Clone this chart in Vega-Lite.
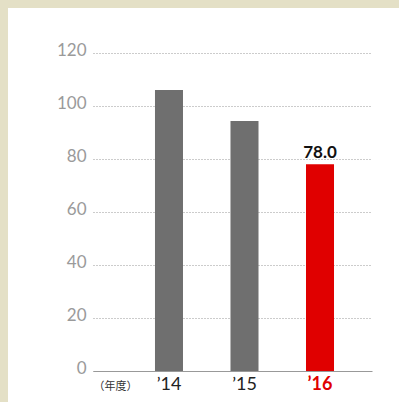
{
  "$schema": "https://vega.github.io/schema/vega-lite/v6.json",
  "width": 391,
  "height": 394,
  "autosize": {"type": "none"},
  "padding": {"left": 8, "top": 8, "right": 0, "bottom": 0},
  "background": "#e4e0c6",
  "config": {"view": {"fill": "white", "stroke": null}},
  "data": {"values": [
    {"year": "’14", "value": 106.0},
    {"year": "’15", "value": 94.3},
    {"year": "’16", "value": 78.0}
  ]},
  "layer": [
    {
      "mark": {"type": "bar"},
      "encoding": {
        "x": {
          "field": "year", "type": "nominal", "sort": null,
          "scale": {"range": [85, 364], "paddingInner": 0.629, "paddingOuter": 0.662, "align": 0.62},
          "axis": {
            "orient": "bottom", "offset": -31, "labelAngle": 0,
            "ticks": false, "grid": false,
            "domain": true, "domainColor": "#999999", "domainWidth": 1,
            "labelFont": "Lato", "labelFontSize": 18, "labelPadding": 4,
            "labelColor": {"condition": {"test": "datum.value == '’16'", "value": "#e00000"}, "value": "#222222"},
            "labelFontWeight": {"condition": {"test": "datum.value == '’16'", "value": "bold"}, "value": "normal"},
            "title": "（年度）", "titleX": 107, "titleY": 15, "titleAlign": "center", "titleBaseline": "middle",
            "titleFont": "Noto Sans CJK JP", "titleFontSize": 11, "titleFontWeight": "normal", "titleColor": "#333333"
          }
        },
        "y": {
          "field": "value", "type": "quantitative",
          "scale": {"domain": [0, 120], "range": [363, 45], "nice": false, "zero": true},
          "axis": {
            "orient": "left", "offset": -85, "values": [0, 20, 40, 60, 80, 100, 120],
            "domain": false, "ticks": false, "grid": true,
            "gridColor": "#999999", "gridDash": [1, 2], "gridWidth": 1,
            "labelFont": "Lato", "labelFontSize": 17, "labelColor": "#9a9a9a",
            "labelPadding": 7, "labelBaseline": "alphabetic", "labelOffset": 2,
            "title": null
          }
        },
        "color": {
          "condition": {"test": "datum.year == '’16'", "value": "#e00000"},
          "value": "#6f6f6f"
        }
      }
    },
    {
      "transform": [{"filter": "datum.year == '’16'"}],
      "mark": {"type": "text", "baseline": "alphabetic", "dy": -6, "font": "Lato", "fontSize": 17, "fontWeight": "bold", "color": "#111111"},
      "encoding": {
        "x": {"field": "year", "type": "nominal", "sort": null},
        "y": {"field": "value", "type": "quantitative"},
        "text": {"field": "value", "type": "quantitative", "format": ".1f"}
      }
    }
  ]
}
